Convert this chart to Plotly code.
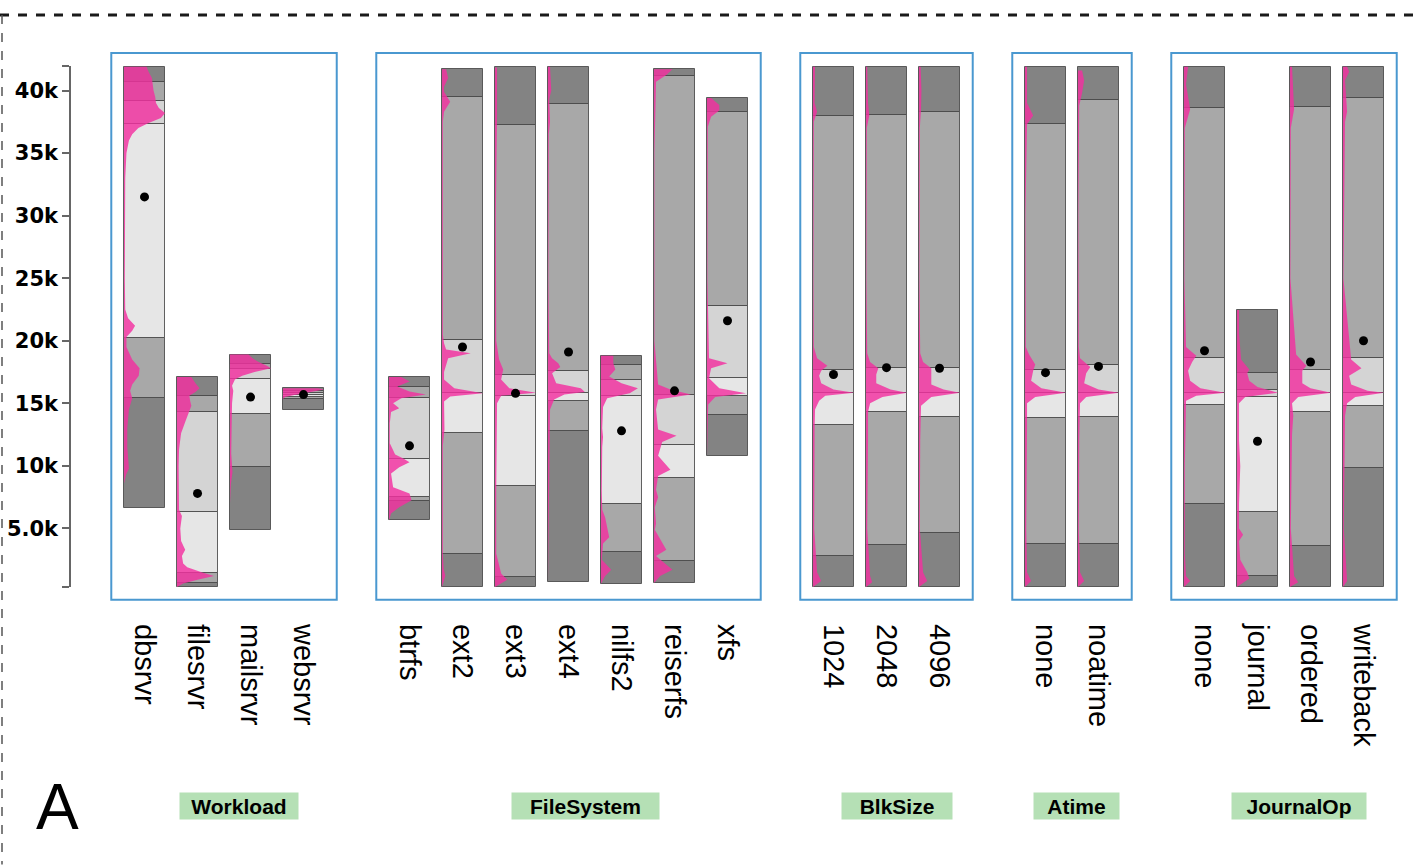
import plotly.graph_objects as go

# ---------------- data (values in thousands) ----------------
categories = ["dbsrvr", "filesrvr", "mailsrvr", "websrvr",
              "btrfs", "ext2", "ext3", "ext4", "nilfs2", "reiserfs", "xfs",
              "1024", "2048", "4096",
              "none", "noatime",
              "none", "journal", "ordered", "writeback"]
group_of = [0, 0, 0, 0, 1, 1, 1, 1, 1, 1, 1, 2, 2, 2, 3, 3, 4, 4, 4, 4]
group_names = ["Workload", "FileSystem", "BlkSize", "Atime", "JournalOp"]
group_label_x = [1.79, 8.32, 14.2, 17.58, 21.79]

mins = [6.6, 0.32, 4.9, 14.5, 5.64, 0.32, 0.32, 0.69, 0.58, 0.64, 10.8,
        0.32, 0.32, 0.32, 0.32, 0.32, 0.32, 0.32, 0.32, 0.32]
q10 = [15.4, 0.64, 9.95, 15.35, 7.16, 2.98, 1.12, 12.75, 3.08, 2.37, 14.1,
       2.8, 3.67, 4.6, 3.73, 3.73, 6.97, 1.17, 3.62, 9.8]
q25 = [20.2, 1.44, 14.16, 15.5, 7.48, 12.6, 8.43, 15.15, 6.95, 9.02, 15.55,
       13.28, 14.3, 13.87, 13.8, 13.9, 14.9, 6.35, 14.3, 14.8]
q50 = [37.3, 6.3, 16.96, 15.65, 10.57, 15.8, 15.55, 15.8, 15.6, 11.69, 17.0,
       15.85, 15.85, 15.85, 15.85, 15.85, 15.85, 15.47, 15.85, 15.85]
q75 = [39.2, 14.3, 17.75, 15.8, 15.4, 20.1, 17.3, 17.55, 16.88, 15.68, 22.8,
       17.65, 17.8, 17.86, 17.7, 18.1, 18.6, 16.05, 17.7, 18.6]
q90 = [40.65, 15.6, 18.15, 16.0, 16.3, 39.5, 37.25, 38.9, 18.07, 41.15, 38.25,
       38.0, 38.04, 38.25, 37.3, 39.25, 38.6, 17.4, 38.7, 39.4]
maxs = [41.9, 17.1, 18.9, 16.2, 17.1, 41.7, 41.85, 41.9, 18.8, 41.7, 39.4,
        41.9, 41.9, 41.9, 41.9, 41.9, 41.9, 22.45, 41.9, 41.9]
means = [31.5, 7.8, 15.5, 15.7, 11.6, 19.5, 15.8, 19.1, 12.8, 16.0, 21.6,
         17.3, 17.85, 17.8, 17.45, 17.95, 19.2, 11.97, 18.3, 20.0]

# density profiles: (value in k, relative width of the column)
dens_dbsrvr = [(41.9, 0.55), (41.5, 0.6), (41.0, 0.68), (40.5, 0.7), (40.0, 0.72), (39.5, 0.76),
               (39.0, 0.78), (38.6, 0.85), (38.2, 1.0), (37.8, 0.9), (37.4, 0.6), (37.0, 0.35),
               (36.5, 0.2), (36.0, 0.12), (35.0, 0.06), (33.0, 0.03), (30.0, 0.02), (25.0, 0.02),
               (22.5, 0.03), (21.8, 0.1), (21.2, 0.27), (20.8, 0.2), (20.3, 0.06), (19.5, 0.06),
               (18.5, 0.2), (17.8, 0.38), (17.2, 0.36), (16.5, 0.2), (16.0, 0.15), (15.4, 0.2),
               (14.5, 0.12), (13.0, 0.08), (11.5, 0.08), (10.5, 0.1), (9.8, 0.12), (9.3, 0.05), (8.6, 0.0)]
dens_filesrvr = [(17.1, 0.35), (16.6, 0.45), (16.2, 0.55), (15.9, 0.45), (15.6, 0.3), (15.2, 0.32),
                 (14.8, 0.35), (14.3, 0.3), (13.5, 0.2), (12.6, 0.1), (11.3, 0.05), (10.0, 0.04),
                 (8.0, 0.04), (6.5, 0.05), (6.0, 0.12), (5.5, 0.1), (5.0, 0.08), (4.0, 0.1),
                 (3.3, 0.2), (2.8, 0.12), (2.2, 0.15), (1.9, 0.25), (1.5, 0.6), (1.2, 0.9),
                 (0.9, 0.5), (0.6, 0.15), (0.32, 0.0)]
dens_mailsrvr = [(18.9, 0.45), (18.6, 0.55), (18.3, 0.7), (18.0, 0.9), (17.8, 1.0), (17.5, 0.6),
                 (17.2, 0.3), (16.9, 0.12), (16.4, 0.05), (16.0, 0.08), (15.0, 0.05), (13.0, 0.04),
                 (11.0, 0.03), (10.0, 0.05), (9.5, 0.06), (8.5, 0.02), (7.0, 0.0)]
dens_websrvr = [(16.2, 0.85), (16.1, 1.0), (15.95, 0.75), (15.8, 0.5), (15.65, 0.25), (15.5, 0.05),
                (15.35, 0.0)]
dens_btrfs = [(17.1, 0.3), (16.75, 0.5), (16.35, 0.2), (15.95, 0.5), (15.7, 0.9), (15.4, 0.3),
              (15.0, 0.1), (14.6, 0.25), (14.3, 0.05), (13.4, 0.02), (11.8, 0.02), (10.9, 0.15),
              (10.6, 0.35), (10.3, 0.5), (9.9, 0.25), (9.4, 0.05), (8.3, 0.1), (7.8, 0.5),
              (7.25, 0.55), (6.7, 0.25), (6.2, 0.05), (5.64, 0.0)]
dens_ext2 = [(41.7, 0.1), (41.0, 0.15), (40.3, 0.05), (39.9, 0.05), (39.1, 0.2), (38.3, 0.05),
             (37.5, 0.02), (30.0, 0.01), (20.5, 0.02), (19.8, 0.05), (19.3, 0.1), (19.0, 0.7),
             (18.6, 0.15), (17.5, 0.05), (16.9, 0.05), (16.2, 0.3), (15.8, 1.0), (15.55, 0.2),
             (15.15, 0.05), (12.9, 0.06), (11.6, 0.02), (3.0, 0.02), (1.8, 0.04), (1.2, 0.08),
             (0.6, 0.03), (0.32, 0.0)]
dens_ext3 = [(41.85, 0.05), (38.0, 0.05), (30.0, 0.02), (20.0, 0.03), (18.5, 0.1), (17.7, 0.2),
             (16.9, 0.15), (16.2, 0.35), (15.85, 1.0), (15.6, 0.15), (15.0, 0.05), (12.9, 0.04),
             (8.0, 0.03), (3.0, 0.03), (1.4, 0.15), (0.9, 0.3), (0.5, 0.1), (0.32, 0.0)]
dens_ext4 = [(41.9, 0.05), (40.8, 0.06), (40.0, 0.08), (39.3, 0.03), (37.5, 0.05), (36.5, 0.02),
             (25.0, 0.01), (19.0, 0.03), (18.6, 0.1), (18.2, 0.25), (17.9, 0.3), (17.4, 0.1),
             (16.6, 0.2), (16.2, 0.8), (15.9, 0.9), (15.7, 0.4), (15.3, 0.15), (14.5, 0.05),
             (12.9, 0.03), (5.0, 0.01), (0.69, 0.0)]
dens_nilfs2 = [(18.8, 0.3), (18.2, 0.3), (17.7, 0.35), (17.15, 0.2), (16.6, 0.5), (16.2, 0.9),
               (15.8, 0.7), (15.4, 0.15), (14.7, 0.05), (13.0, 0.03), (12.3, 0.05), (11.5, 0.03),
               (8.0, 0.02), (6.5, 0.03), (5.9, 0.1), (5.1, 0.15), (4.3, 0.2), (3.8, 0.05),
               (2.5, 0.02), (1.7, 0.25), (1.2, 0.1), (0.58, 0.0)]
dens_reiserfs = [(41.7, 0.45), (41.25, 0.3), (40.7, 0.05), (39.7, 0.03), (35.0, 0.01), (20.0, 0.01),
                 (16.5, 0.1), (16.1, 0.4), (15.7, 0.9), (15.3, 0.1), (14.5, 0.05), (12.9, 0.1),
                 (12.4, 0.55), (11.9, 0.2), (10.8, 0.1), (9.7, 0.4), (9.2, 0.1), (8.1, 0.05),
                 (7.5, 0.1), (6.7, 0.02), (5.4, 0.05), (4.9, 0.02), (3.3, 0.3), (2.8, 0.05),
                 (1.7, 0.45), (1.2, 0.15), (0.64, 0.0)]
dens_xfs = [(39.4, 0.1), (38.85, 0.3), (38.4, 0.3), (37.9, 0.1), (37.1, 0.02), (25.0, 0.01),
            (18.6, 0.05), (18.2, 0.5), (17.8, 0.1), (17.0, 0.05), (16.2, 0.3), (15.8, 0.95),
            (15.5, 0.2), (14.9, 0.03), (13.3, 0.02), (10.8, 0.0)]
dens_1024 = [(41.9, 0.05), (39.0, 0.04), (38.3, 0.1), (37.5, 0.02), (25.0, 0.01), (19.5, 0.02),
             (18.6, 0.1), (18.0, 0.35), (17.6, 0.2), (17.2, 0.15), (16.6, 0.2), (16.1, 0.5),
             (15.85, 1.0), (15.6, 0.3), (15.2, 0.15), (14.5, 0.05), (13.0, 0.04), (5.0, 0.03),
             (1.5, 0.1), (0.8, 0.2), (0.32, 0.0)]
dens_2048 = [(41.9, 0.03), (39.0, 0.05), (38.0, 0.08), (37.0, 0.02), (25.0, 0.01), (19.0, 0.03),
             (18.3, 0.1), (17.8, 0.3), (17.3, 0.25), (16.6, 0.25), (16.1, 0.6), (15.85, 1.0),
             (15.5, 0.4), (15.0, 0.1), (14.3, 0.05), (12.0, 0.05), (5.0, 0.03), (1.2, 0.1),
             (0.7, 0.15), (0.32, 0.0)]
dens_4096 = [(41.9, 0.04), (40.0, 0.06), (38.5, 0.05), (37.0, 0.02), (25.0, 0.01), (19.0, 0.03),
             (18.3, 0.1), (17.8, 0.3), (17.2, 0.3), (16.5, 0.3), (16.1, 0.6), (15.85, 1.0),
             (15.5, 0.3), (14.8, 0.05), (12.0, 0.03), (5.0, 0.02), (1.5, 0.1), (0.8, 0.2),
             (0.32, 0.0)]
dens_atime_none = [(41.9, 0.05), (39.0, 0.05), (38.0, 0.2), (37.3, 0.05), (30.0, 0.01), (19.5, 0.02),
                   (18.9, 0.1), (18.1, 0.25), (17.6, 0.2), (16.8, 0.15), (16.2, 0.4), (15.85, 1.0),
                   (15.5, 0.25), (15.0, 0.05), (13.0, 0.05), (5.0, 0.03), (1.5, 0.05), (0.8, 0.15),
                   (0.32, 0.0)]
dens_noatime = [(41.6, 0.1), (40.8, 0.15), (39.8, 0.1), (38.8, 0.03), (30.0, 0.01), (19.5, 0.02),
                (18.6, 0.05), (17.9, 0.3), (17.4, 0.2), (16.6, 0.15), (16.1, 0.5), (15.85, 1.0),
                (15.5, 0.2), (15.0, 0.05), (12.0, 0.03), (5.0, 0.02), (1.5, 0.05), (0.8, 0.15),
                (0.32, 0.0)]
dens_journal_none = [(41.9, 0.1), (40.5, 0.05), (38.5, 0.15), (37.0, 0.02), (25.0, 0.01), (19.5, 0.05),
                     (18.8, 0.3), (18.3, 0.2), (17.6, 0.1), (16.8, 0.15), (16.2, 0.4), (15.85, 1.0),
                     (15.6, 0.3), (15.2, 0.05), (10.0, 0.02), (3.0, 0.02), (1.2, 0.05), (0.8, 0.15),
                     (0.32, 0.0)]
dens_journal = [(22.45, 0.05), (20.6, 0.05), (18.5, 0.1), (17.7, 0.3), (17.4, 0.25), (16.8, 0.3),
                (16.3, 0.5), (15.85, 1.0), (15.5, 0.2), (15.0, 0.05), (12.0, 0.05), (10.0, 0.08),
                (7.0, 0.05), (5.0, 0.05), (4.5, 0.15), (4.0, 0.05), (2.5, 0.08), (1.5, 0.25),
                (1.0, 0.3), (0.32, 0.0)]
dens_ordered = [(41.9, 0.05), (38.5, 0.1), (37.0, 0.02), (25.0, 0.01), (18.9, 0.15), (18.0, 0.4),
                (17.6, 0.3), (16.6, 0.3), (16.2, 0.5), (15.85, 1.0), (15.5, 0.2), (15.0, 0.05),
                (14.0, 0.08), (12.5, 0.05), (5.0, 0.02), (1.2, 0.1), (0.7, 0.2), (0.32, 0.0)]
dens_writeback = [(41.9, 0.1), (41.5, 0.15), (40.8, 0.05), (38.3, 0.1), (37.5, 0.05), (25.0, 0.01),
                  (18.5, 0.2), (17.8, 0.45), (17.2, 0.15), (16.5, 0.2), (16.0, 0.6), (15.85, 1.0),
                  (15.5, 0.3), (15.0, 0.1), (14.0, 0.05), (5.0, 0.02), (0.8, 0.1), (0.32, 0.0)]

densities = [dens_dbsrvr, dens_filesrvr, dens_mailsrvr, dens_websrvr,
             dens_btrfs, dens_ext2, dens_ext3, dens_ext4, dens_nilfs2, dens_reiserfs, dens_xfs,
             dens_1024, dens_2048, dens_4096, dens_atime_none, dens_noatime,
             dens_journal_none, dens_journal, dens_ordered, dens_writeback]

ytick_vals = [5, 10, 15, 20, 25, 30, 35, 40]
ytick_text = ["5.0k", "10k", "15k", "20k", "25k", "30k", "35k", "40k"]

# ---------------- layout helpers ----------------
K = 1000.0
pos = [i + g for i, g in enumerate(group_of)]
BW = 0.774
band_colors = ["#838383", "#a8a8a8", "#e6e6e6", "#d4d4d4", "#a8a8a8", "#838383"]
lows = [mins, q10, q25, q50, q75, q90]
highs = [q10, q25, q50, q75, q90, maxs]

fig = go.Figure()
for lo, hi, col in zip(lows, highs, band_colors):
    fig.add_trace(go.Bar(
        x=pos, base=[v * K for v in lo], y=[(h - l) * K for l, h in zip(lo, hi)],
        width=BW, marker=dict(color=col, line=dict(color="rgba(70,70,70,0.85)", width=1)),
        showlegend=False, hoverinfo="skip"))

for p, dens in zip(pos, densities):
    pts = sorted(dens)
    left = p - BW / 2
    xs = [left] + [left + w * BW for _, w in pts] + [left]
    ys = [pts[0][0] * K] + [v * K for v, _ in pts] + [pts[-1][0] * K]
    fig.add_trace(go.Scatter(x=xs, y=ys, mode="lines", fill="toself",
                             fillcolor="rgba(243,48,160,0.82)", line=dict(width=0),
                             showlegend=False, hoverinfo="skip"))

fig.add_trace(go.Scatter(x=pos, y=[m * K for m in means], mode="markers",
                         marker=dict(color="black", size=9), showlegend=False, hoverinfo="skip"))

# plot geometry
L, T, W, H = 71, 66, 1350, 521.3
YMIN, YMAX = 320, 41960
XMIN, XMAX = -1.387, 24.085


def py(pix):  # pixel y -> paper y
    return (T + H - pix) / H


def px(pix):  # pixel x -> paper x
    return (pix - L) / W


shapes = []
for g in range(len(group_names)):
    members = [p for p, gg in zip(pos, group_of) if gg == g]
    shapes.append(dict(type="rect", xref="x", yref="paper",
                       x0=min(members) - 0.627, x1=max(members) + 0.627,
                       y0=py(600), y1=py(53), line=dict(color="#4a98d0", width=2)))
# dashed frame
shapes.append(dict(type="line", xref="paper", yref="paper", x0=px(0), x1=px(1421),
                   y0=py(15), y1=py(15), line=dict(color="#1a1a1a", width=3, dash="dash")))
shapes.append(dict(type="line", xref="paper", yref="paper", x0=px(2), x1=px(2),
                   y0=py(15), y1=py(865), line=dict(color="#555555", width=1.5, dash="dash")))

label_widths = [116, 145, 108, 83, 132]
annotations = []
for name, lx, wdt in zip(group_names, group_label_x, label_widths):
    annotations.append(dict(text="<b>%s</b>" % name, x=lx, xref="x", y=py(806), yref="paper",
                            showarrow=False, bgcolor="#b5e0b5", width=wdt, height=24,
                            font=dict(family="Liberation Sans, Arial", size=21, color="black"),
                            xanchor="center", yanchor="middle"))
annotations.append(dict(text="A", x=px(57), xref="paper", y=py(807), yref="paper",
                        showarrow=False, font=dict(family="Liberation Sans, Arial", size=64, color="black"),
                        xanchor="center", yanchor="middle"))

fig.update_layout(
    width=1421, height=865, margin=dict(l=L, r=1421 - L - W, t=T, b=865 - T - H),
    plot_bgcolor="white", paper_bgcolor="white", barmode="overlay", bargap=0,
    shapes=shapes, annotations=annotations,
    xaxis=dict(range=[XMIN, XMAX], tickvals=pos, ticktext=categories, tickangle=90,
               showgrid=False, zeroline=False, showline=False, ticks="",
               ticklabelstandoff=36,
               tickfont=dict(family="Liberation Sans, Arial", size=29, color="black")),
    yaxis=dict(range=[YMIN, YMAX],
               tickvals=[YMIN] + [v * K for v in ytick_vals] + [YMAX],
               ticktext=[""] + ytick_text + [""],
               showgrid=False, zeroline=False, showline=True, linecolor="#666666", linewidth=1.5,
               ticks="outside", ticklen=7, tickcolor="#666666", tickwidth=1.5,
               tickfont=dict(family="DejaVu Sans", size=21, color="black", weight="bold")),
)

fig.write_html("out.html")
